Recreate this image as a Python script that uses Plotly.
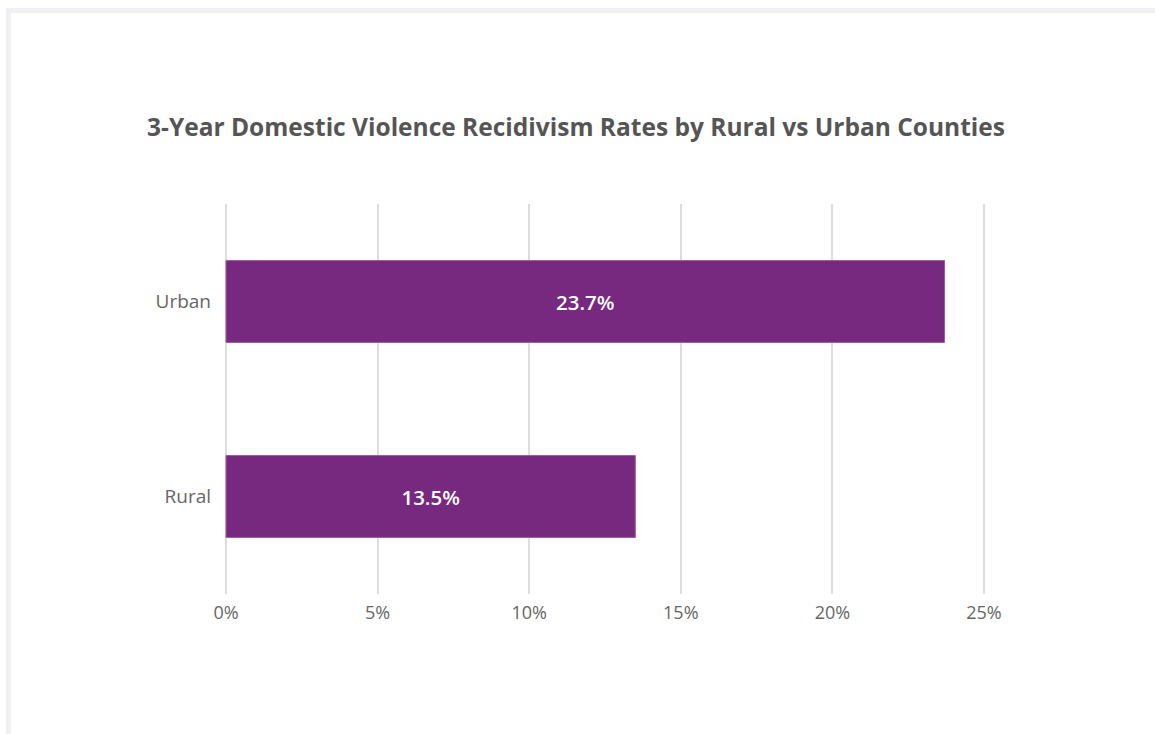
import plotly.graph_objects as go

categories = ["Rural", "Urban"]
rates = [13.5, 23.7]
labels = ["13.5%", "23.7%"]
tick_vals = [0, 5, 10, 15, 20, 25]
tick_text = ["0%", "5%", "10%", "15%", "20%", "25%"]

W, H = 1155, 734
X_MIN, X_MAX = -0.1, 25.1
PX_PER_UNIT = (983.5 - 226) / 25
L = round(226 + X_MIN * PX_PER_UNIT)
R = round(W - (226 + X_MAX * PX_PER_UNIT))
T, B = 204, 140
pw, ph = W - L - R, H - T - B

def px_x(x):
    return (x - L) / pw

def px_y(y):
    return (H - B - y) / ph

FONT = "'Open Sans', Lato, sans-serif"
BORDER = "#efeff4"

fig = go.Figure(go.Bar(
    y=categories, x=rates, orientation="h",
    marker=dict(color="#76297f", line=dict(color="#9a5aa3", width=1)),
    width=0.42,
    text=labels, textposition="inside", insidetextanchor="middle",
    textfont=dict(color="white", size=20.5, family=FONT, weight=600),
    hoverinfo="skip",
))

fig.update_layout(
    width=W, height=H,
    margin=dict(l=L, r=R, t=T, b=B),
    paper_bgcolor="white", plot_bgcolor="white",
    showlegend=False,
    title=dict(text="3-Year Domestic Violence Recidivism Rates by Rural vs Urban Counties",
               x=576 / W, xref="container", xanchor="center", y=1 - 127 / H, yanchor="middle",
               font=dict(size=24.5, color="#555555", family=FONT, weight=700)),
    xaxis=dict(range=[X_MIN, X_MAX], tickvals=tick_vals, ticktext=tick_text,
               showgrid=True, gridcolor="#dddddd", gridwidth=2,
               zeroline=True, zerolinecolor="#dddddd", zerolinewidth=2,
               showline=False, ticks="", ticklen=0, ticklabelstandoff=6,
               tickfont=dict(size=18, color="#666666", family=FONT)),
    yaxis=dict(showgrid=False, zeroline=False, showline=False,
               ticks="", ticklabelstandoff=11,
               tickfont=dict(size=19, color="#666666", family=FONT)),
    shapes=[
        dict(type="rect", xref="paper", yref="paper", layer="below",
             x0=px_x(6), x1=px_x(11), y0=px_y(734), y1=px_y(8),
             fillcolor=BORDER, line=dict(width=0)),
        dict(type="rect", xref="paper", yref="paper", layer="below",
             x0=px_x(6), x1=px_x(1155), y0=px_y(13), y1=px_y(8),
             fillcolor=BORDER, line=dict(width=0)),
    ],
)

fig.write_html("out.html", config={"displayModeBar": False},
               post_script="document.body.style.margin='0';document.body.style.padding='0';")
